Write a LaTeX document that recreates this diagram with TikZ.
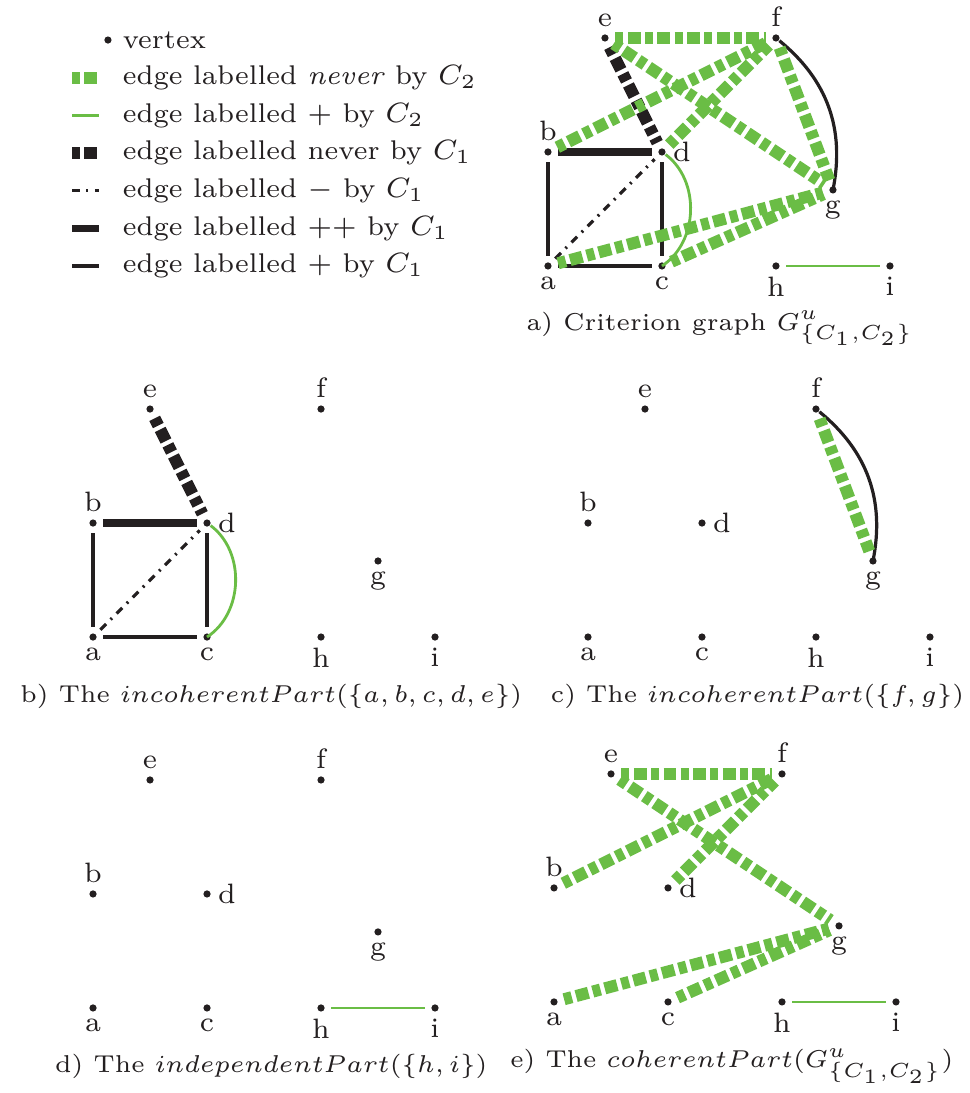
\documentclass[tikz,border=0pt]{standalone}
\usepackage{amsmath,amssymb}
\usepackage{xcolor}
\usepackage{tikz}

\definecolor{vgreen}{RGB}{106,189,69}
\definecolor{vblack}{RGB}{35,31,32}

\tikzset{
  vertex/.style={circle,fill=vblack,inner sep=0pt,minimum size=1.8pt},
  every label/.style={inner sep=1.5pt,text=vblack},
  plusone/.style={draw=vblack,line width=0.8pt},
  plusplusone/.style={draw=vblack,line width=1.8pt},
  minusone/.style={draw=vblack,line width=0.8pt,dash pattern=on 2pt off 1.6pt on 0.5pt off 1.6pt},
  neverone/.style={draw=vblack,line width=3pt,dash pattern=on 2pt off 1.1pt on 3.2pt off 1.1pt},
  plustwo/.style={draw=vgreen,line width=0.7pt},
  nevertwo/.style={draw=vgreen,line width=3pt,dash pattern=on 2pt off 1.1pt on 3.2pt off 1.1pt},
  shortedge/.style={shorten <=1.5pt,shorten >=1.5pt},
  legtext/.style={anchor=west,inner sep=0pt,text=vblack,font=\fontsize{6.75}{8}\selectfont},
  captiontext/.style={anchor=base,inner sep=0pt,text=vblack,scale=1.015,font=\fontsize{6}{7.2}\selectfont}
}

% the nine vertices of one panel
\newcommand{\vertexset}{%
  \node[vertex,label=below:a] (a) at (0,0) {};
  \node[vertex,label=above:b] (b) at (0,1) {};
  \node[vertex,label=below:c] (c) at (1,0) {};
  \node[vertex,label=right:d] (d) at (1,1) {};
  \node[vertex,label=above:e] (e) at (0.5,2) {};
  \node[vertex,label=above:f] (f) at (2,2) {};
  \node[vertex,label=below:g] (g) at (2.5,0.667) {};
  \node[vertex,label=below:h] (h) at (2,0) {};
  \node[vertex,label=below:i] (i) at (3,0) {};
}

\begin{document}
\begin{tikzpicture}[font=\fontsize{7}{8.5}\selectfont]

\useasboundingbox (0,0) rectangle (8.509,-9.588);

% legend
\node[vertex] (lv) at (0.947,-0.351) {};
\node[legtext] (tv) at (1.07,-0.351) {vertex};

\coordinate (l1s) at (0.632,-0.682); \coordinate (l1e) at (0.868,-0.682);
\draw[nevertwo] (l1s) -- (l1e);
\node[legtext] (t1) at (1.07,-0.682) {edge labelled \textit{never} by $C_2$};

\coordinate (l2s) at (0.632,-1.012); \coordinate (l2e) at (0.868,-1.012);
\draw[plustwo] (l2s) -- (l2e);
\node[legtext] (t2) at (1.07,-1.012) {edge labelled $+$ by $C_2$};

\coordinate (l3s) at (0.632,-1.342); \coordinate (l3e) at (0.868,-1.342);
\draw[neverone] (l3s) -- (l3e);
\node[legtext] (t3) at (1.07,-1.342) {edge labelled never by $C_1$};

\coordinate (l4s) at (0.632,-1.673); \coordinate (l4e) at (0.868,-1.673);
\draw[minusone] (l4s) -- (l4e);
\node[legtext] (t4) at (1.07,-1.673) {edge labelled $-$ by $C_1$};

\coordinate (l5s) at (0.632,-2.004); \coordinate (l5e) at (0.868,-2.004);
\draw[plusplusone] (l5s) -- (l5e);
\node[legtext] (t5) at (1.07,-2.004) {edge labelled $++$ by $C_1$};

\coordinate (l6s) at (0.632,-2.333); \coordinate (l6e) at (0.868,-2.333);
\draw[plusone] (l6s) -- (l6e);
\node[legtext] (t6) at (1.07,-2.333) {edge labelled $+$ by $C_1$};

% a) criterion graph
\begin{scope}[shift={(4.807,-2.333)},name prefix=A-]
\vertexset
% labels given by C1
\draw[plusone,shortedge] (a) -- (b);
\draw[plusone,shortedge] (a) -- (c);
\draw[plusone,shortedge] (c) -- (d);
\draw[plusplusone,shortedge] (b) -- (d);
\draw[minusone,shortedge] (a) -- (d);
\draw[neverone,shortedge] (e) -- (d);
\draw[plusone] (f) to[bend left=31] (g);
% labels given by C2
\draw[nevertwo,shortedge] (e) -- (f);
\draw[nevertwo,shortedge] (e) -- (g);
\draw[nevertwo,shortedge] (b) -- (f);
\draw[nevertwo,shortedge] (d) -- (f);
\draw[nevertwo,shortedge] (f) -- (g);
\draw[nevertwo,shortedge] (a) -- (g);
\draw[nevertwo,shortedge] (c) -- (g);
\draw[plustwo] (d) to[bend left=55] (c);
\draw[plustwo,shortedge] (h) -- (i);
\end{scope}
\node[captiontext] (capA) at (6.316,-2.895) {a) Criterion graph $G^u_{\{C_1,C_2\}}$};

% b) incoherent part {a,b,c,d,e}
\begin{scope}[shift={(0.816,-5.588)},name prefix=B-]
\vertexset
\draw[plusone,shortedge] (a) -- (b);
\draw[plusone,shortedge] (a) -- (c);
\draw[plusone,shortedge] (c) -- (d);
\draw[plusplusone,shortedge] (b) -- (d);
\draw[minusone,shortedge] (a) -- (d);
\draw[neverone,shortedge] (e) -- (d);
\draw[plustwo] (d) to[bend left=55] (c);
\end{scope}
\node[captiontext] (capB) at (2.38,-6.158) {b) The $incoherentPart(\{a,b,c,d,e\})$};

% c) incoherent part {f,g}
\begin{scope}[shift={(5.158,-5.588)},name prefix=C-]
\vertexset
\draw[plusone] (f) to[bend left=31] (g);
\draw[nevertwo,shortedge] (f) -- (g);
\end{scope}
\node[captiontext,anchor=base east] (capC) at (8.465,-6.158) {c) The $incoherentPart(\{f,g\})$};

% d) independent part {h,i}
\begin{scope}[shift={(0.816,-8.842)},name prefix=D-]
\vertexset
\draw[plustwo,shortedge] (h) -- (i);
\end{scope}
\node[captiontext] (capD) at (2.38,-9.404) {d) The $independentPart(\{h,i\})$};

% e) coherent part
\begin{scope}[shift={(4.860,-8.789)},name prefix=E-]
\vertexset
\draw[nevertwo,shortedge] (e) -- (f);
\draw[nevertwo,shortedge] (e) -- (g);
\draw[nevertwo,shortedge] (b) -- (f);
\draw[nevertwo,shortedge] (d) -- (f);
\draw[nevertwo,shortedge] (a) -- (g);
\draw[nevertwo,shortedge] (c) -- (g);
\draw[plustwo,shortedge] (h) -- (i);
\end{scope}
\node[captiontext] (capE) at (6.42,-9.368) {e) The $coherentPart(G^u_{\{C_1,C_2\}})$};

\end{tikzpicture}
\end{document}
